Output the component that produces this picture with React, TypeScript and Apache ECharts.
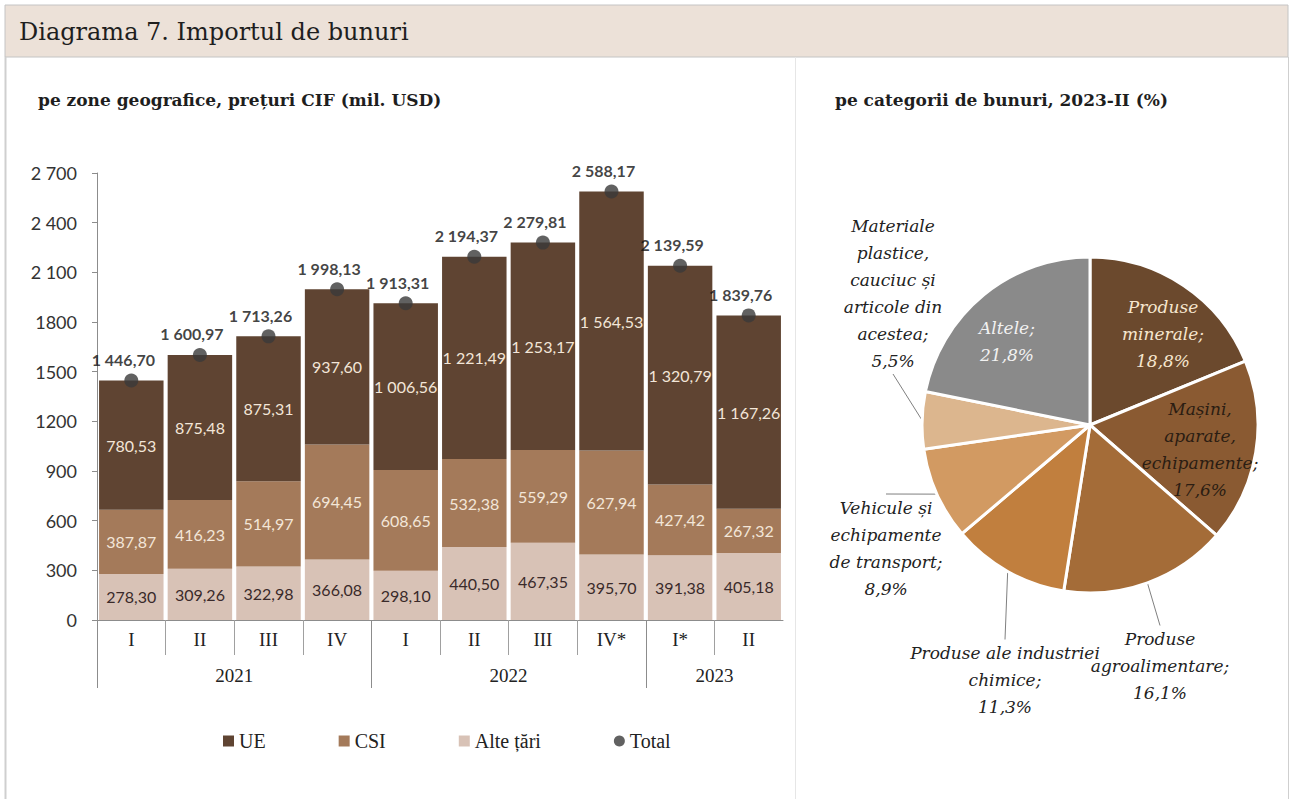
import React, { useEffect, useRef } from 'react';
import * as echarts from 'echarts';

// ---------- data ----------
const quarters = ['I', 'II', 'III', 'IV', 'I', 'II', 'III', 'IV*', 'I*', 'II'];
const years = ['2021', '2022', '2023'];
const yearSpans = [4, 4, 2];
const alteTari = [278.3, 309.26, 322.98, 366.08, 298.1, 440.5, 467.35, 395.7, 391.38, 405.18];
const csi = [387.87, 416.23, 514.97, 694.45, 608.65, 532.38, 559.29, 627.94, 427.42, 267.32];
const ue = [780.53, 875.48, 875.31, 937.6, 1006.56, 1221.49, 1253.17, 1564.53, 1320.79, 1167.26];
const total = [1446.7, 1600.97, 1713.26, 1998.13, 1913.31, 2194.37, 2279.81, 2588.17, 2139.59, 1839.76];
const yTickLabels = ['0', '300', '600', '900', '1200', '1500', '1800', '2 100', '2 400', '2 700'];

const pieNames = [
  'Produse minerale',
  'Mașini, aparate, echipamente',
  'Produse agroalimentare',
  'Produse ale industriei chimice',
  'Vehicule și echipamente de transport',
  'Materiale plastice, cauciuc și articole din acestea',
  'Altele',
];
const pieLabelNames = [
  'Produse\nminerale',
  'Mașini,\naparate,\nechipamente',
  'Produse\nagroalimentare',
  'Produse ale industriei\nchimice',
  'Vehicule și\nechipamente\nde transport',
  'Materiale\nplastice,\ncauciuc și\narticole din\nacestea',
  'Altele',
];
const pieValues = [18.8, 17.6, 16.1, 11.3, 8.9, 5.5, 21.8];

// ---------- styles / layout ----------
const pieColors = ['#6b492d', '#8a5a32', '#a46c38', '#c17f3e', '#d29a62', '#dcb68e', '#8a8a8a'];
const pieLabelColors = ['#f6e6cf', '#2b1d12', '#222', '#222', '#222', '#222', '#f2f2f2'];
const pieInside = [true, true, false, false, false, false, true];
const pieLabelPos: [number, number][] = [
  [1163, 334],
  [1200, 449],
  [1160, 666],
  [1005, 680],
  [886, 548],
  [893, 293],
  [1007, 341],
];

const SERIF = '"Liberation Serif", "DejaVu Serif", serif';
const WIDE_SERIF = '"DejaVu Serif", "Liberation Serif", serif';
const SANS = 'Lato, "Open Sans", sans-serif';

const fmtNum = (v: number) => {
  const [i, d] = v.toFixed(2).split('.');
  return i.replace(/\B(?=(\d{3})+(?!\d))/g, ' ') + ',' + d;
};
const fmtPct = (v: number) => v.toFixed(1).replace('.', ',') + '%';

export default function App() {
  const ref = useRef<HTMLDivElement>(null);
  useEffect(() => {
    if (!ref.current) return;
    const chart = echarts.init(ref.current, undefined, { renderer: 'svg' });

    const n = quarters.length;
    const quarterBounds = Array.from({ length: n - 1 }, (_, i) => i + 1);
    const yearBounds: number[] = [];
    const yearCenters: number[] = [];
    let acc = 0;
    yearSpans.forEach((s) => {
      yearBounds.push(acc);
      yearCenters.push(acc + s / 2);
      acc += s;
    });

    const barLabel = (color: string) => ({
      show: true,
      position: 'inside',
      color,
      fontFamily: SANS,
      fontSize: 16,
      formatter: (p: any) => fmtNum(p.value),
    });

    const option: any = {
      animation: false,
      backgroundColor: '#ffffff',
      graphic: [
        {
          type: 'rect',
          shape: { x: 5, y: 5, width: 1283, height: 52 },
          style: { fill: '#ece1d8', stroke: '#c4c4c4', lineWidth: 1 },
          z: 0,
        },
        {
          type: 'line',
          shape: { x1: 5.5, y1: 57, x2: 5.5, y2: 799 },
          style: { stroke: '#cfcfcf', lineWidth: 2 },
        },
        {
          type: 'line',
          shape: { x1: 1288.5, y1: 57, x2: 1288.5, y2: 799 },
          style: { stroke: '#cfcfcf', lineWidth: 1 },
        },
        {
          type: 'line',
          shape: { x1: 795.5, y1: 57, x2: 795.5, y2: 799 },
          style: { stroke: '#e6e6e6', lineWidth: 1 },
        },
        {
          type: 'text',
          x: 19,
          y: 32,
          style: {
            text: 'Diagrama 7. Importul de bunuri',
            fill: '#1e1e1e',
            font: `24px ${WIDE_SERIF}`,
            verticalAlign: 'middle',
          },
        },
        {
          type: 'text',
          x: 38,
          y: 100,
          style: {
            text: 'pe zone geografice, prețuri CIF (mil. USD)',
            fill: '#1e1e1e',
            font: `bold 17px ${WIDE_SERIF}`,
            verticalAlign: 'middle',
          },
        },
        {
          type: 'text',
          x: 835,
          y: 100,
          style: {
            text: 'pe categorii de bunuri, 2023-II (%)',
            fill: '#1e1e1e',
            font: `bold 17px ${WIDE_SERIF}`,
            verticalAlign: 'middle',
          },
        },
      ],
      legend: {
        left: 218,
        top: 726,
        itemGap: 73,
        itemWidth: 11,
        itemHeight: 11,
        textStyle: { fontFamily: SERIF, fontSize: 20, color: '#222' },
        data: [
          { name: 'UE', icon: 'rect' },
          { name: 'CSI', icon: 'rect' },
          { name: 'Alte țări', icon: 'rect' },
          { name: 'Total', icon: 'circle' },
        ],
      },
      grid: { left: 97, right: 512, top: 173, bottom: 179, containLabel: false },
      xAxis: [
        {
          type: 'category',
          data: quarters,
          axisLine: { lineStyle: { color: '#8c8c8c', width: 1 } },
          axisTick: { show: false },
          axisLabel: { margin: 10, fontFamily: SERIF, fontSize: 19, color: '#222' },
        },
        {
          type: 'value',
          min: 0,
          max: n,
          position: 'bottom',
          axisLine: { show: false },
          splitLine: { show: false },
          axisLabel: { show: false },
          axisTick: {
            show: true,
            customValues: quarterBounds,
            length: 35,
            lineStyle: { color: '#a0a0a0' },
          },
        },
        {
          type: 'value',
          min: 0,
          max: n,
          position: 'bottom',
          axisLine: { show: false },
          splitLine: { show: false },
          axisTick: {
            show: true,
            customValues: yearBounds,
            length: 68,
            lineStyle: { color: '#8c8c8c' },
          },
          axisLabel: {
            show: true,
            customValues: yearCenters,
            margin: 46,
            fontFamily: SERIF,
            fontSize: 19,
            color: '#222',
            formatter: (v: number) => {
              const i = yearCenters.indexOf(v);
              return i >= 0 ? years[i] : '';
            },
          },
        },
      ],
      yAxis: {
        type: 'value',
        min: 0,
        max: 2700,
        interval: 300,
        splitLine: { show: false },
        axisLine: { show: true, lineStyle: { color: '#8c8c8c' } },
        axisTick: { show: true, length: 5, lineStyle: { color: '#8c8c8c' } },
        axisLabel: {
          fontFamily: SANS,
          fontSize: 18,
          color: '#333',
          margin: 20,
          formatter: (v: number) => yTickLabels[Math.round(v / 300)] ?? '',
        },
      },
      series: [
        {
          name: 'Alte țări',
          type: 'bar',
          stack: 'geo',
          data: alteTari,
          barCategoryGap: '6%',
          itemStyle: { color: '#d8c2b6' },
          label: barLabel('#3a2a2a'),
        },
        {
          name: 'CSI',
          type: 'bar',
          stack: 'geo',
          data: csi,
          barCategoryGap: '6%',
          itemStyle: { color: '#a47a5a' },
          label: barLabel('#f3e6d8'),
        },
        {
          name: 'UE',
          type: 'bar',
          stack: 'geo',
          data: ue,
          barCategoryGap: '6%',
          itemStyle: { color: '#5f4432' },
          label: barLabel('#f3e6d8'),
        },
        {
          name: 'Total',
          type: 'scatter',
          data: total,
          symbol: 'circle',
          symbolSize: 14,
          itemStyle: { color: '#3a3a3a' },
          z: 5,
          label: {
            show: true,
            position: 'top',
            distance: 6,
            offset: [-8, 0],
            color: '#111',
            fontFamily: SANS,
            fontWeight: 'bold',
            fontSize: 16,
            formatter: (p: any) => fmtNum(p.value),
          },
        },
        {
          name: 'Categorii',
          type: 'pie',
          center: [1090, 425],
          radius: 168,
          startAngle: 90,
          clockwise: true,
          avoidLabelOverlap: false,
          itemStyle: { borderColor: '#ffffff', borderWidth: 3 },
          labelLine: { show: true, length: 10, length2: 0, lineStyle: { color: '#808080', width: 1 } },
          label: {
            fontFamily: WIDE_SERIF,
            fontStyle: 'italic',
            fontSize: 17,
            lineHeight: 27,
            align: 'center',
          },
          labelLayout: (params: any) => {
            const p = pieLabelPos[params.dataIndex];
            return { x: p[0], y: p[1], align: 'center', verticalAlign: 'middle' };
          },
          data: pieNames.map((name, i) => ({
            name,
            value: pieValues[i],
            itemStyle: { color: pieColors[i] },
            label: {
              position: pieInside[i] ? 'inside' : 'outside',
              color: pieLabelColors[i],
              formatter: () => pieLabelNames[i] + ';\n' + fmtPct(pieValues[i]),
            },
            labelLine: { show: !pieInside[i] },
          })),
        },
      ],
    };

    chart.setOption(option);
    return () => chart.dispose();
  }, []);

  return (
    <div
      ref={ref}
      style={{ position: 'fixed', left: 0, top: 0, width: 1295, height: 799 }}
    />
  );
}
